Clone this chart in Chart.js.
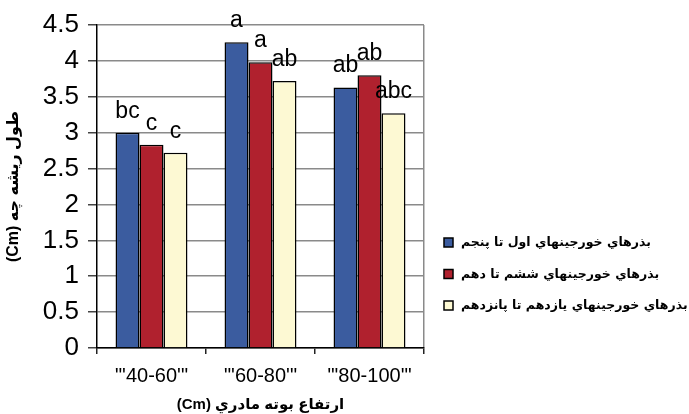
<!DOCTYPE html>
<html>
<head>
<meta charset="utf-8">
<script src="https://cdn.jsdelivr.net/npm/chart.js@4"></script>
<style>
  html, body { margin: 0; padding: 0; background: #fff; }
  #wrap { width: 689px; height: 414px; }
</style>
</head>
<body>
<div id="wrap"><canvas id="rootChart" width="689" height="414"></canvas></div>
<script>
// mother plant height classes
const categories = [`"'40-60'"`, `"'60-80'"`, `"'80-100'"`];

// radicle length (Cm) for seeds from pods 1-5, 6-10, 11-15
const podsFirstToFifth = [3.0, 4.26, 3.63];
const podsSixthToTenth = [2.83, 3.98, 3.80];
const podsEleventhToFifteenth = [2.72, 3.72, 3.27];

const seriesNames = [
    'بذرهاي خورجينهاي اول تا پنجم',
    'بذرهاي خورجينهاي ششم تا دهم',
    'بذرهاي خورجينهاي يازدهم تا پانزدهم'
];

// mean comparison letters, one list per series
const lettersFirst = ['bc', 'a', 'ab'];
const lettersSixth = ['c', 'a', 'ab'];
const lettersEleventh = ['c', 'ab', 'abc'];

const yTickLabels = ['0', '0.5', '1', '1.5', '2', '2.5', '3', '3.5', '4', '4.5'];

const yTitle = '\u202Bطول ريشه چه (Cm)\u202C';
const xTitle = '\u202Bارتفاع بوته مادري (Cm)\u202C';

const colors = ['#3b5c9f', '#b0212e', '#fdf9d3'];
const letterSets = [lettersFirst, lettersSixth, lettersEleventh];

// letters drawn above each bar
const letterPlugin = {
    id: 'letters',
    afterDatasetsDraw(chart) {
        const ctx = chart.ctx;
        ctx.save();
        ctx.font = '23px "Liberation Sans", Arial, sans-serif';
        ctx.fillStyle = '#000';
        ctx.textAlign = 'center';
        ctx.textBaseline = 'alphabetic';
        chart.data.datasets.forEach((ds, i) => {
            chart.getDatasetMeta(i).data.forEach((bar, j) => {
                ctx.fillText(letterSets[i][j], bar.x, bar.y - 15);
            });
        });
        ctx.restore();
    }
};

// legend on the right, box left of the text
const sideLegend = {
    id: 'sideLegend',
    afterDraw(chart) {
        const ctx = chart.ctx;
        ctx.save();
        ctx.font = 'bold 12.5px "DejaVu Sans", sans-serif';
        ctx.textBaseline = 'middle';
        ctx.textAlign = 'left';
        chart.data.datasets.forEach((ds, i) => {
            const y = 243 + i * 31.5;
            ctx.fillStyle = ds.backgroundColor;
            ctx.strokeStyle = '#000';
            ctx.lineWidth = 1.5;
            ctx.fillRect(444, y - 5, 9, 9);
            ctx.strokeRect(444, y - 5, 9, 9);
            ctx.fillStyle = '#000';
            ctx.fillText(ds.label, 461, y);
        });
        ctx.restore();
    }
};

const makeSet = (label, data, i) => ({
    label: label,
    data: data,
    backgroundColor: colors[i],
    borderColor: '#000',
    borderWidth: 1.5,
    borderSkipped: 'bottom',
    categoryPercentage: 0.66,
    barPercentage: 1.0
});

new Chart(document.getElementById('rootChart').getContext('2d'), {
    type: 'bar',
    data: {
        labels: categories,
        datasets: [
            makeSet(seriesNames[0], podsFirstToFifth, 0),
            makeSet(seriesNames[1], podsSixthToTenth, 1),
            makeSet(seriesNames[2], podsEleventhToFifteenth, 2)
        ]
    },
    options: {
        responsive: false,
        animation: false,
        layout: { padding: { top: 25, right: 265, left: 0, bottom: 0 } },
        plugins: {
            legend: { display: false },
            tooltip: { enabled: false }
        },
        scales: {
            x: {
                afterFit: s => { s.height = 66; },
                grid: {
                    offset: true,
                    color: c => c.index === undefined ? '#8a8a8a' : 'rgba(0,0,0,0)',
                    tickColor: '#222',
                    tickLength: 6,
                    lineWidth: 1.5
                },
                border: { color: '#000', width: 1.5 },
                ticks: {
                    color: '#000',
                    padding: 10,
                    font: { family: '"Liberation Sans", Arial, sans-serif', size: 20 }
                },
                title: {
                    display: true,
                    text: xTitle,
                    color: '#000',
                    padding: { top: 0, bottom: 0 },
                    font: { family: '"Liberation Sans", "DejaVu Sans", sans-serif', size: 15, weight: 'bold' }
                }
            },
            y: {
                min: 0,
                max: 4.5,
                afterFit: s => { s.width = 97; },
                grid: {
                    color: '#8a8a8a',
                    tickColor: '#444',
                    tickLength: 9,
                    lineWidth: 1.5
                },
                border: { color: '#000', width: 1.5 },
                ticks: {
                    stepSize: 0.5,
                    color: '#000',
                    padding: 9,
                    font: { family: '"Liberation Sans", Arial, sans-serif', size: 26 },
                    callback: (v, i) => yTickLabels[i]
                },
                title: {
                    display: true,
                    text: yTitle,
                    color: '#000',
                    padding: { top: 4, bottom: 0 },
                    font: { family: '"Liberation Sans", "DejaVu Sans", sans-serif', size: 16, weight: 'bold' }
                }
            }
        }
    },
    plugins: [letterPlugin, sideLegend]
});
</script>
</body>
</html>
